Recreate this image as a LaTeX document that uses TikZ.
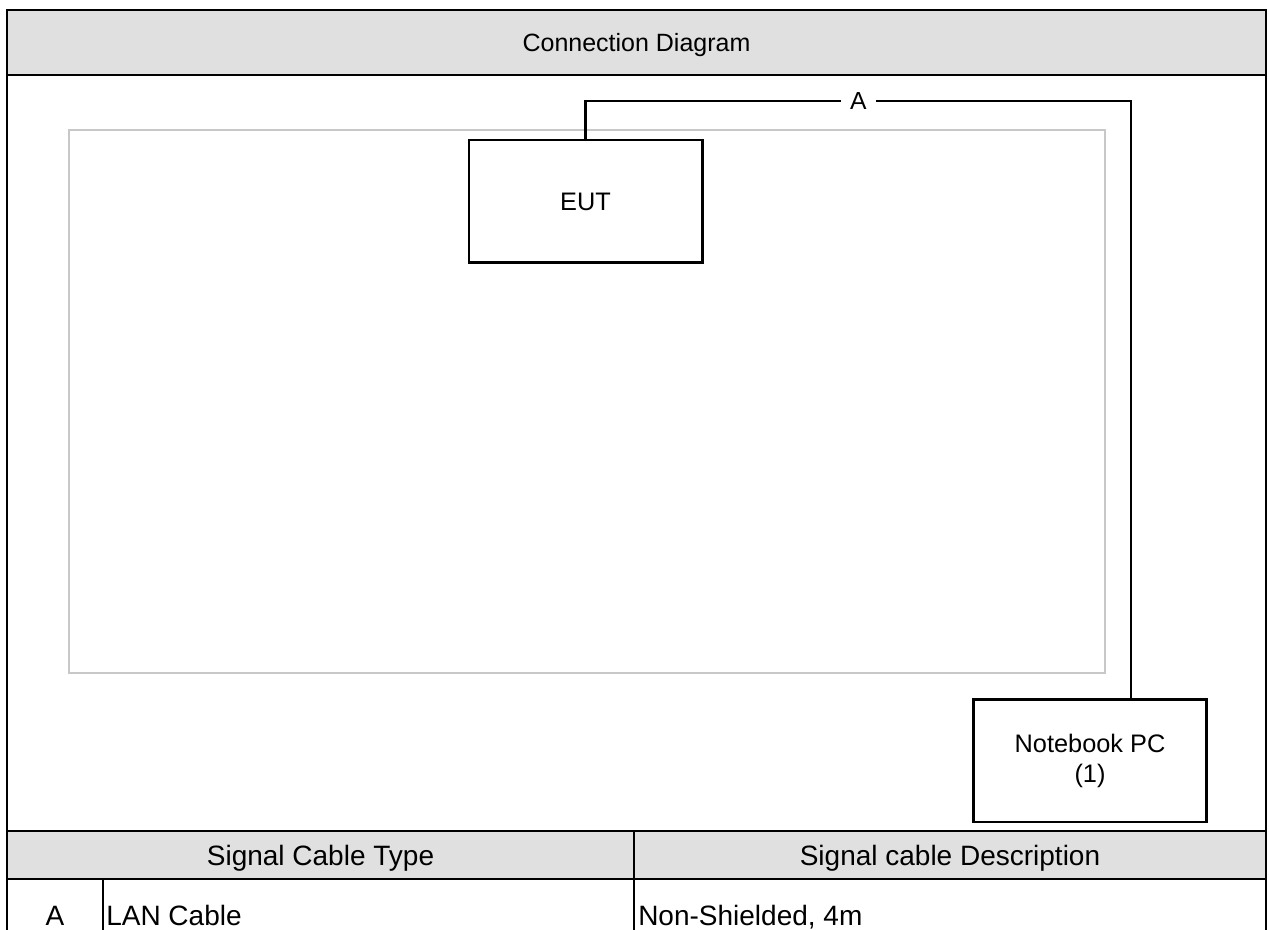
\documentclass[tikz,border=0pt]{standalone}
\usepackage{fontspec}
\setmainfont{Liberation Sans}
\usetikzlibrary{positioning,calc}
\definecolor{headgray}{HTML}{E0E0E0}
\definecolor{areagray}{HTML}{C8C8C8}
\tikzset{
	connection diagram/.style={
		x=0.75pt,y=-0.75pt,
		frame line/.style={line width=1.8pt},
		cable/.style={line width=2pt},
		cable label/.style={
			fill=white,
			inner xsep=7pt,
			inner ysep=1pt,
			font=\fontsize{18.5}{22}\selectfont
		}
	},
	device/.style={
		rectangle,
		draw,
		line width=2pt,
		minimum width=175pt,
		minimum height=92pt,
		align=center,
		font=\fontsize{19}{22.5}\selectfont
	},
	cell text/.style={
		inner sep=0pt,
		anchor=base,
		font=\fontsize{21}{25}\selectfont
	},
	cell text left/.style={
		cell text,
		anchor=base west
	}
}

\begin{document}
\begin{tikzpicture}[connection diagram]
	\useasboundingbox (0,0) rectangle (1269,930);
	\clip (0,0) rectangle (1269,930);
	% header bands
	\fill[headgray] (7,10) rectangle (1266,75);
	\fill[headgray] (7,831) rectangle (1266,879);
	% test area
	\draw[areagray, line width=1pt] (69,130) rectangle (1105,673);
	% devices
	\node[device] (eut) at (585.5,201.5) {EUT};
	\node[device] (nb) at (1090,760.5) {Notebook PC\\(1)};
	\coordinate (cable top) at (1131,101);
	\draw[cable] (eut.north) |- node[pos=0.75, cable label] (cable a) {A} (cable top)
		-- (nb.north -| cable top);
	% frame and table rules
	\draw[frame line] (7,940) -- (7,10) -- (1266,10) -- (1266,940);
	\draw[frame line] (7,75) -- (1266,75);
	\draw[frame line] (7,831) -- (1266,831);
	\draw[frame line] (7,879) -- (1266,879);
	\draw[frame line] (634,831) -- (634,940);
	\draw[frame line] (103,879) -- (103,940);
	% texts
	\node[cell text, font=\fontsize{18.75}{22}\selectfont] (title) at (636.5,52) {Connection Diagram};
	\node[cell text] (type head) at (320.5,865) {Signal Cable Type};
	\node[cell text] (desc head) at (950,865) {Signal cable Description};
	\node[cell text] (cable id) at (55,925) {A};
	\node[cell text left] (cable type) at (106,925) {LAN Cable};
	\node[cell text left] (cable desc) at (638,925) {Non-Shielded, 4m};
\end{tikzpicture}
\end{document}
